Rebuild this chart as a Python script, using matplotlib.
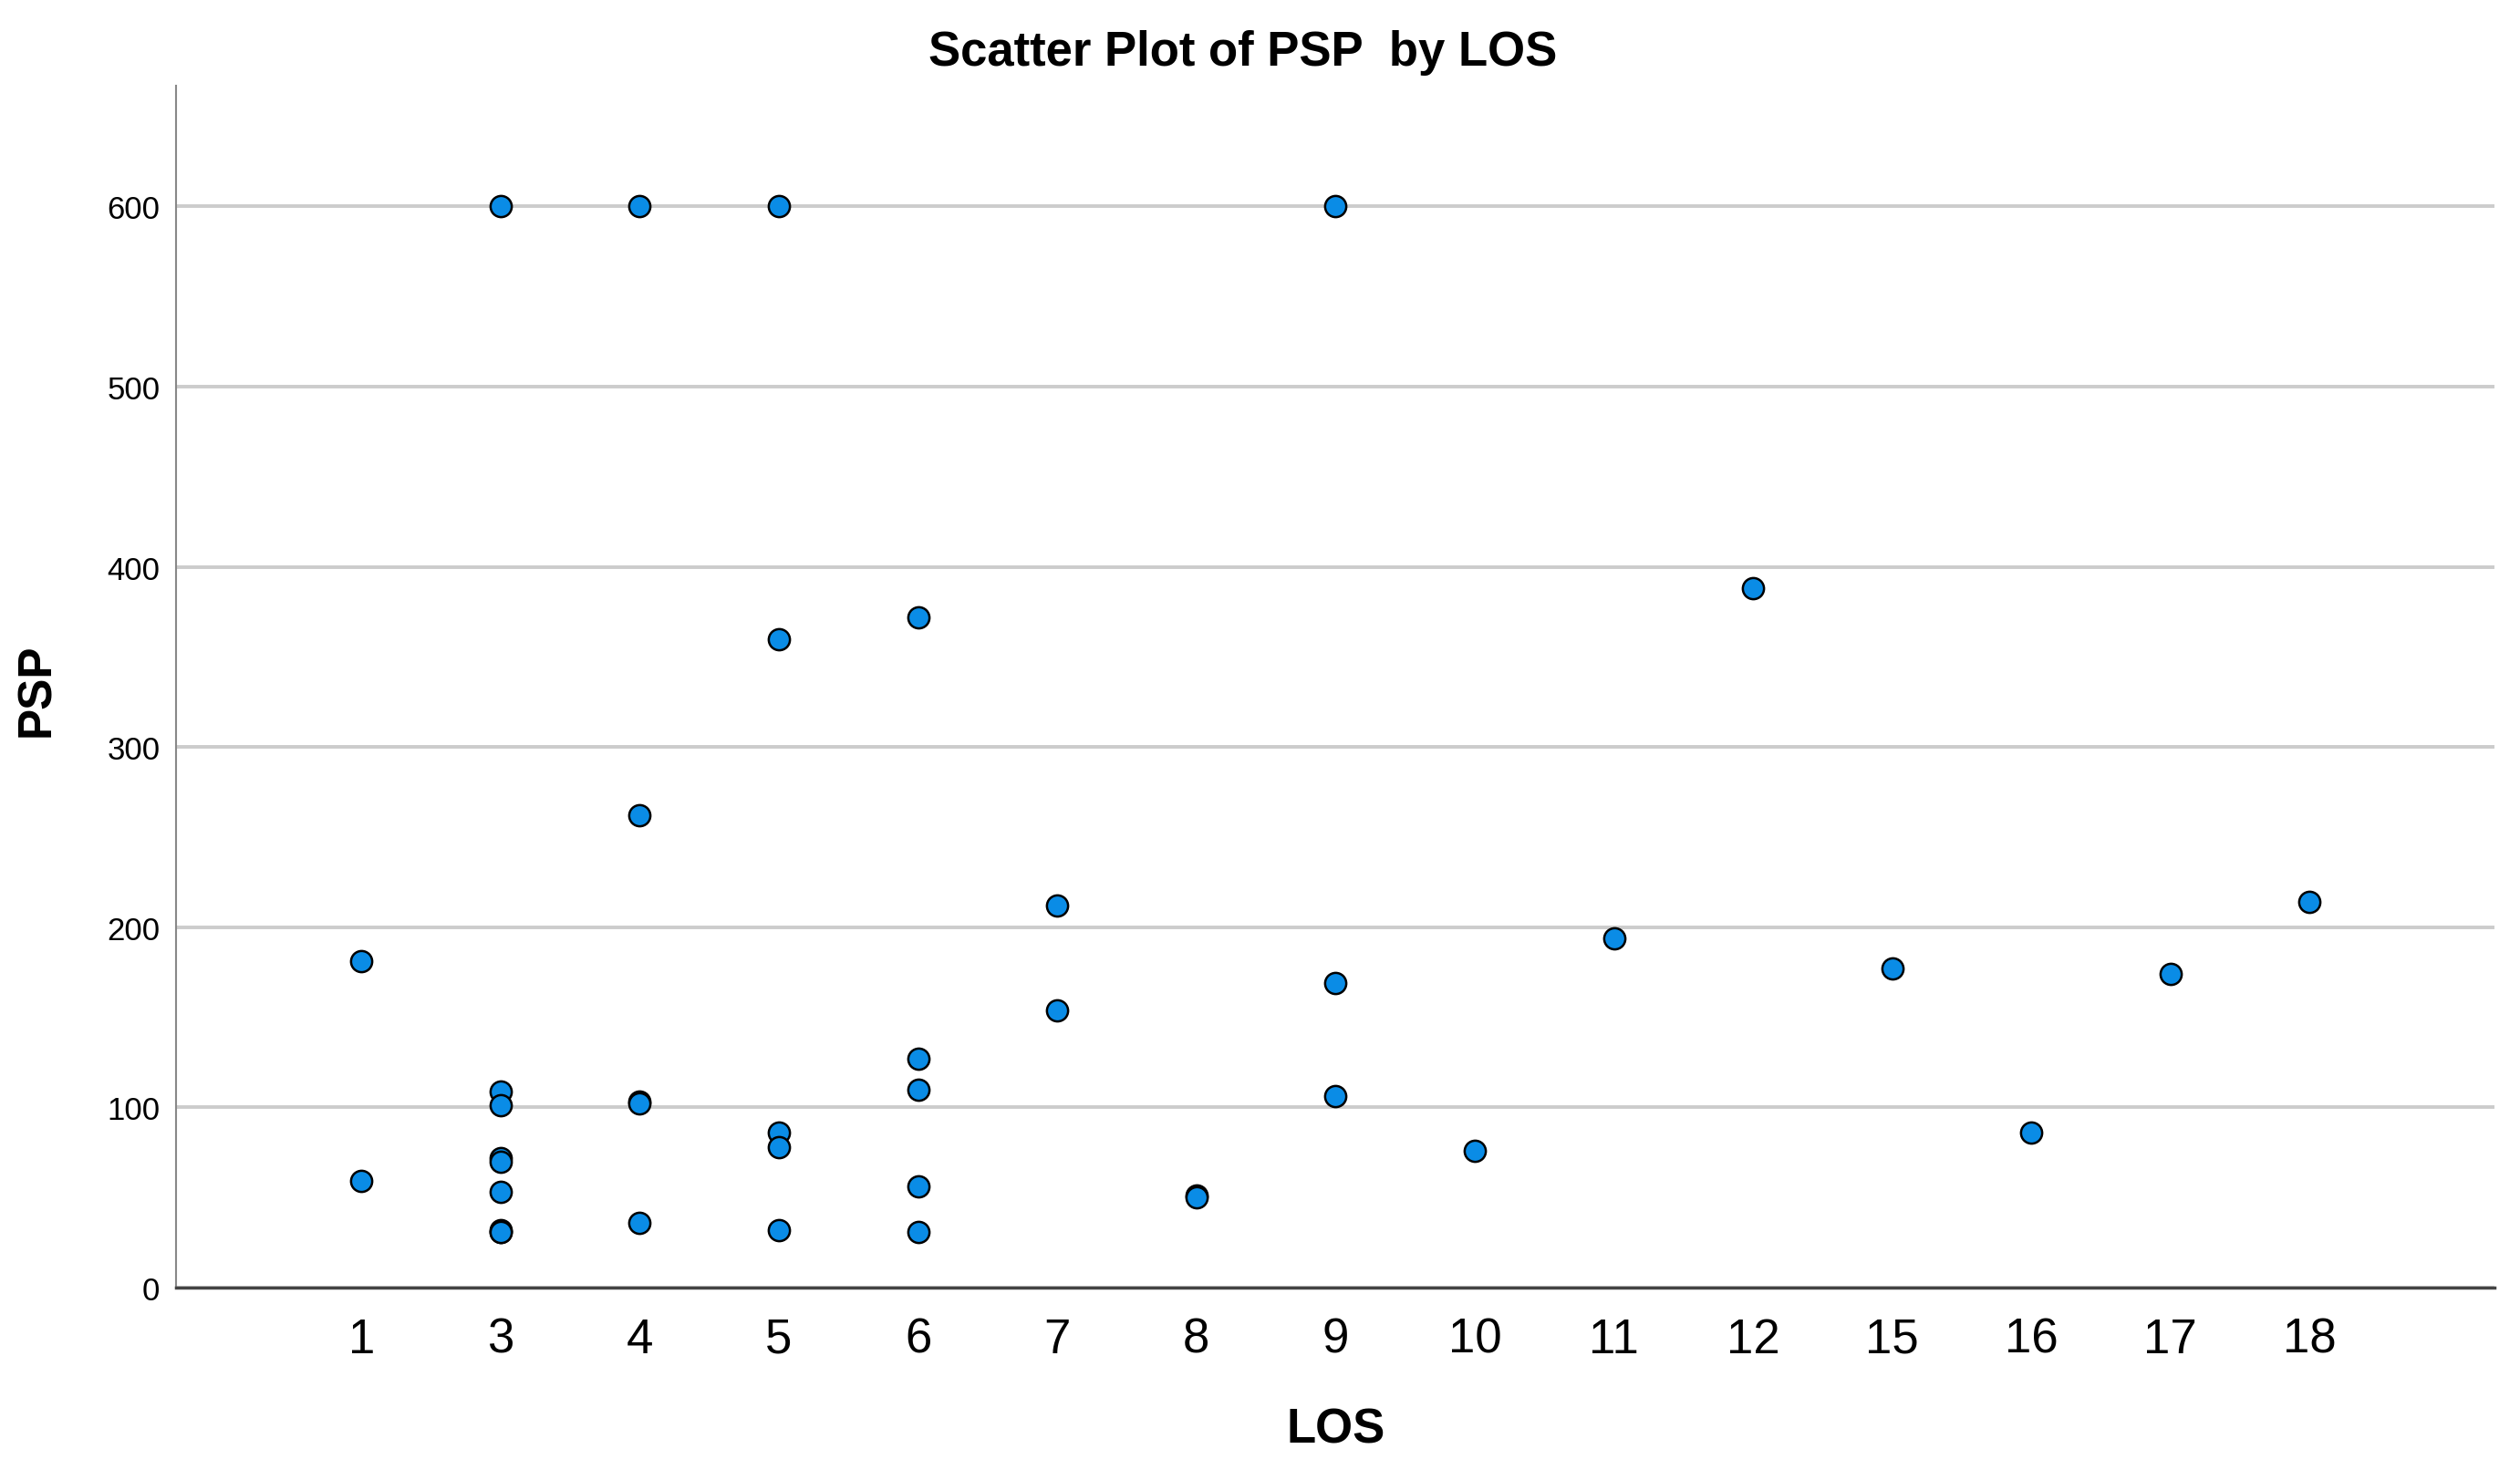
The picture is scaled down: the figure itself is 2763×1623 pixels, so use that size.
import matplotlib.pyplot as plt

# LOS categories shown on the x axis (categorical, evenly spaced)
los_cats = [1, 3, 4, 5, 6, 7, 8, 9, 10, 11, 12, 15, 16, 17, 18]

# one entry per case
los = [1, 1,
       3, 3, 3, 3, 3, 3, 3, 3, 3,
       4, 4, 4, 4, 4,
       5, 5, 5, 5, 5,
       6, 6, 6, 6, 6,
       7, 7,
       8, 8,
       9, 9, 9,
       10, 11, 12, 15, 16, 17, 18]
psp = [181, 59,
       600, 109, 101, 72, 70, 53, 32, 31, 31,
       600, 262, 103, 102, 36,
       600, 360, 86, 78, 32,
       372, 127, 110, 56, 31,
       212, 154,
       51, 50,
       600, 169, 106,
       76, 194, 388, 177, 86, 174, 214]

y_ticks = [0, 100, 200, 300, 400, 500, 600]


def main():
    plt.rcParams['font.family'] = ['Liberation Sans', 'DejaVu Sans']

    fig = plt.figure(figsize=(27.63, 16.24), dpi=100)
    ax = fig.add_axes([0.070, 0.130, 0.920, 0.8115])

    x = [los_cats.index(v) for v in los]
    ax.scatter(x, psp, s=280, c='#0a8ce6', edgecolors='black',
               linewidths=1.8, zorder=3)

    ax.set_xlim(-1.33, 15.33)
    ax.set_ylim(0, 667)
    ax.set_xticks(range(len(los_cats)))
    ax.set_xticklabels([str(c) for c in los_cats])
    ax.set_yticks(y_ticks)

    ax.tick_params(axis='x', length=0, pad=23, labelsize=38)
    ax.tick_params(axis='y', length=0, pad=13, labelsize=25)

    ax.yaxis.grid(True, color='#cccccc', linewidth=2.8, zorder=0)
    ax.set_axisbelow(True)

    for side in ['top', 'right']:
        ax.spines[side].set_visible(False)
    ax.spines['left'].set_color('#888888')
    ax.spines['left'].set_linewidth(1.5)
    ax.spines['bottom'].set_color('#444444')
    ax.spines['bottom'].set_linewidth(2.5)

    ax.set_xlabel('LOS', fontsize=38, fontweight='bold', va='center')
    ax.xaxis.set_label_coords(0.5, -0.1184)
    ax.set_ylabel('PSP', fontsize=37, fontweight='bold', va='center')
    ax.yaxis.set_label_coords(-0.060, 0.498)

    fig.text(0.4933, 1 - 72 / 1624, 'Scatter Plot of PSP  by LOS',
             fontsize=38, fontweight='bold', ha='center', va='baseline')

    fig.savefig('out.png', dpi=100)


if __name__ == "__main__":
    main()
